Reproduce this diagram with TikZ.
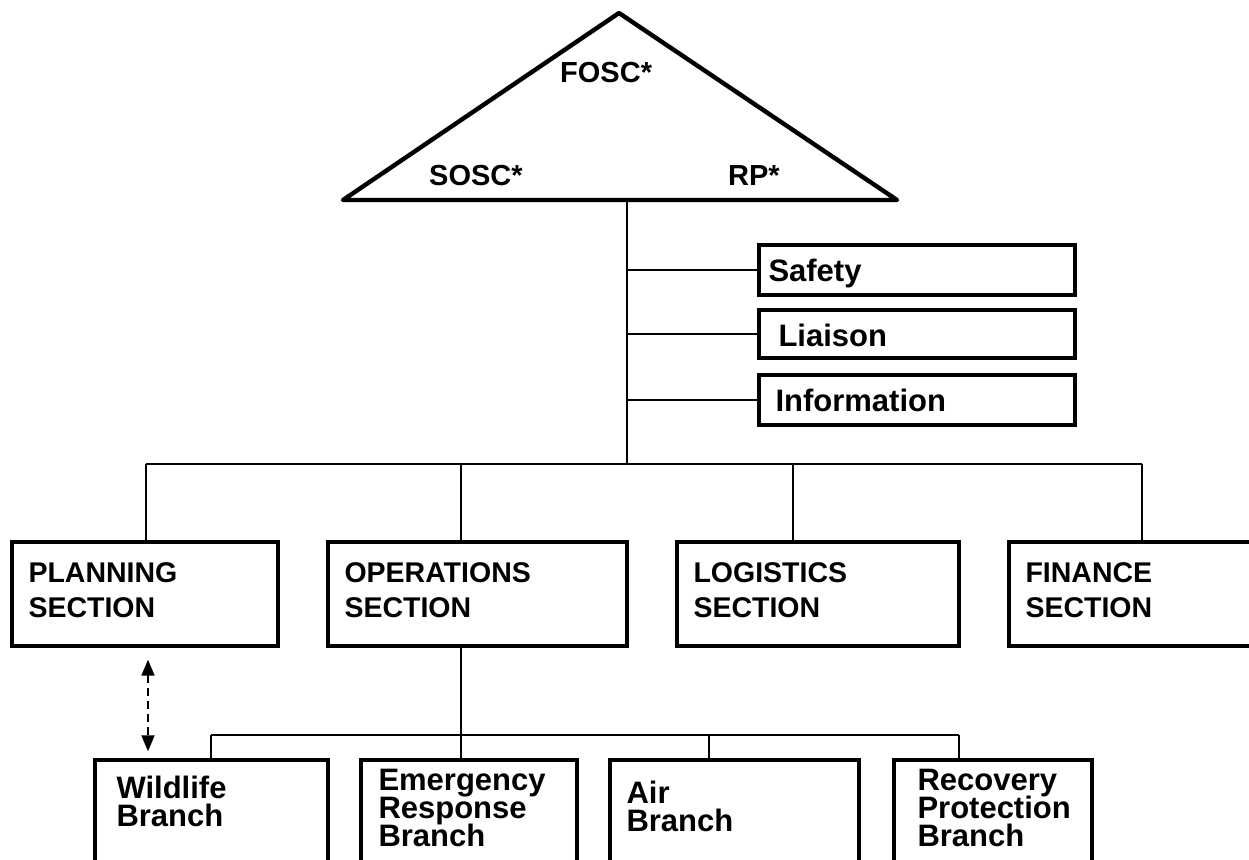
\documentclass[tikz,border=0pt]{standalone}
\usepackage{fontspec}
\setmainfont{Liberation Sans}
\usetikzlibrary{arrows.meta,calc}

\newcommand\trifont{\fontsize{29}{29}\selectfont}
\newcommand\stafffont{\fontsize{31}{31}\selectfont}
\newcommand\secfont{\fontsize{28.5}{35}\selectfont\lineskiplimit=-50pt}
\newcommand\brfont{\fontsize{31}{28}\selectfont\lineskiplimit=-50pt}

\begin{document}
\begin{tikzpicture}[x=1pt, y=-1pt,
                    box/.style 2 args={draw, line width=3.4pt, minimum width=#1,
                                       minimum height=#2, inner sep=0pt},
                    txt/.style={anchor=base west, align=left, inner sep=0pt},
                    tritext/.style={txt, font=\bfseries\trifont},
                    stafftext/.style={txt, font=\bfseries\stafffont},
                    sectext/.style={txt, font=\bfseries\secfont},
                    brtext/.style={txt, font=\bfseries\brfont},
                    wire/.style={line width=2.6pt},
                    tri/.style={line width=4.4pt, line join=round}]
  \useasboundingbox (0,0) rectangle (1249,859);
  \clip (0,0) rectangle (1249,859);

  % unified command
  \coordinate (apex) at (619,13);
  \coordinate (tl) at (343,200);
  \coordinate (tr) at (897,200);
  \coordinate (stem) at (627,200);
  \coordinate (hub) at (627,464);
  \draw[tri] (apex) -- (tr) -- (tl) -- cycle;
  \node[tritext] (fosc) at (560,82) {FOSC*};
  \node[tritext] (sosc) at (429,185) {SOSC*};
  \node[tritext] (rp) at (728,185) {RP*};

  % command staff
  \node[box={316pt}{50pt}] (safety) at (917,270) {};
  \node[box={316pt}{48pt}] (liaison) at (917,334) {};
  \node[box={316pt}{50pt}] (info) at (917,400) {};
  \node[stafftext] (safety-t) at ([shift={(11,38)}]safety.north west) {Safety};
  \node[stafftext] (liaison-t) at ([shift={(21,38)}]liaison.north west) {Liaison};
  \node[stafftext] (info-t) at ([shift={(18,38)}]info.north west) {Information};
  \draw[wire] (stem) -- (hub);
  \foreach \n in {safety,liaison,info}
    \draw[wire] (stem |- \n.west) -- (\n.west);

  % sections (base = last line)
  \node[box={266pt}{104pt}] (plan) at (145,594) {};
  \node[box={299pt}{104pt}] (ops) at (477.5,594) {};
  \node[box={282pt}{104pt}] (logi) at (818,594) {};
  \node[box={243pt}{104pt}] (fin) at (1130.5,594) {};
  \foreach \n/\t in {plan/PLANNING,ops/OPERATIONS,logi/LOGISTICS,fin/FINANCE}
    \node[sectext] (\n-t) at ([shift={(18,77)}]\n.north west) {\t\\SECTION};
  \coordinate (j1) at (146,464);
  \coordinate (j2) at (461,464);
  \coordinate (j3) at (793,464);
  \coordinate (j4) at (1142,464);
  \draw[wire] (j1) -- (j4);
  \foreach \j/\n in {j1/plan,j2/ops,j3/logi,j4/fin}
    \draw[wire] (\j) -- (\j |- \n.north);

  % branches
  \node[box={233pt}{140pt}] (wild) at (211.5,830) {};
  \node[box={216pt}{140pt}] (emer) at (469,830) {};
  \node[box={249pt}{140pt}] (air) at (734.5,830) {};
  \node[box={198pt}{140pt}] (reco) at (993,830) {};
  \node[brtext] (wild-t) at ([shift={(23,68)}]wild.north west) {Wildlife\\Branch};
  \node[brtext] (emer-t) at ([shift={(19,88)}]emer.north west) {Emergency\\Response\\Branch};
  \node[brtext] (air-t) at ([shift={(18,73)}]air.north west) {Air\\Branch};
  \node[brtext] (reco-t) at ([shift={(25,88)}]reco.north west) {Recovery\\Protection\\Branch};
  \coordinate (k1) at (211,735);
  \coordinate (k2) at (461,735);
  \coordinate (k3) at (709,735);
  \coordinate (k4) at (959,735);
  \draw[wire] (k2 |- ops.south) -- (k2);
  \draw[wire] (k1) -- (k4);
  \foreach \k/\n in {k1/wild,k2/emer,k3/air,k4/reco}
    \draw[wire] (\k) -- (\k |- \n.north);

  % planning <-> wildlife
  \draw[line width=2pt, dash pattern=on 8pt off 5pt,
        {Triangle[width=13pt,length=16pt]}-{Triangle[width=13pt,length=16pt]}]
    ($(plan.south)+(3,12)$) -- ($(plan.south |- wild.north)+(3,-7)$);
\end{tikzpicture}
\end{document}
